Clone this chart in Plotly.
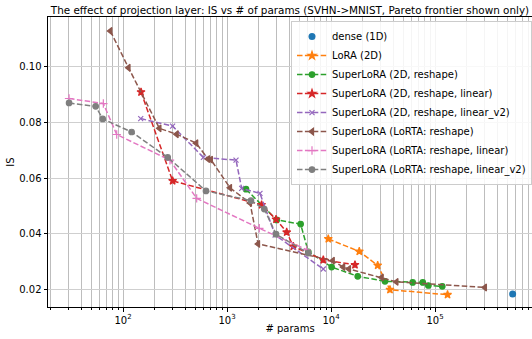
import plotly.graph_objects as go

# ---------------- data ----------------
dense_x = [558000]
dense_y = [0.0185]

lora_x = [9420, 18700, 28100, 36900, 132000]
lora_y = [0.0382, 0.0337, 0.0287, 0.0200, 0.0182]

sl2d_x = [1524, 3005, 5105, 6050, 10140, 18070, 33050, 61000, 76300, 86300, 117500]
sl2d_y = [0.0560, 0.0450, 0.0435, 0.0336, 0.0281, 0.0248, 0.0230, 0.0226, 0.0226, 0.0215, 0.0212]

sl2d_lin_x = [149, 300, 2150, 2960, 3750, 4340, 8430, 17000]
sl2d_lin_y = [0.0908, 0.0590, 0.0504, 0.0452, 0.0406, 0.0355, 0.0307, 0.0289]

sl2d_lin2_x = [148, 300, 593, 1221, 1384, 2076, 2900, 8430]
sl2d_lin2_y = [0.0813, 0.0786, 0.0674, 0.0664, 0.0563, 0.0545, 0.0396, 0.0274]

lorta_x = [75.6, 113, 224, 328, 506, 657, 700, 1069, 1664, 1990, 10400, 13100, 14900, 30700, 42600, 302000]
lorta_y = [0.1127, 0.0995, 0.0778, 0.0757, 0.0725, 0.0668, 0.0666, 0.0565, 0.0511, 0.0364, 0.0304, 0.0281, 0.0274, 0.0244, 0.0228, 0.0208]

lorta_lin_x = [30.3, 64.7, 87, 283, 511, 2045, 5840]
lorta_lin_y = [0.0885, 0.0867, 0.0756, 0.0664, 0.0527, 0.0420, 0.0343]

lorta_lin2_x = [30.3, 54.6, 63.8, 121, 269, 628, 1700, 2285, 2960, 6050]
lorta_lin2_y = [0.0869, 0.0857, 0.0812, 0.0765, 0.0674, 0.0554, 0.0519, 0.0489, 0.0399, 0.0331]

names = [
    "dense (1D)",
    "LoRA (2D)",
    "SuperLoRA (2D, reshape)",
    "SuperLoRA (2D, reshape, linear)",
    "SuperLoRA (2D, reshape, linear_v2)",
    "SuperLoRA (LoRTA: reshape)",
    "SuperLoRA (LoRTA: reshape, linear)",
    "SuperLoRA (LoRTA: reshape, linear_v2)",
]
title_text = "The effect of projection layer: IS vs # of params (SVHN->MNIST, Pareto frontier shown only)"

x_tickvals = [100, 1000, 10000, 100000]
x_ticktext = ["10<sup>2</sup>", "10<sup>3</sup>", "10<sup>4</sup>", "10<sup>5</sup>"]
y_tickvals = [0.02, 0.04, 0.06, 0.08, 0.10]

# ---------------- figure ----------------
FONT = "DejaVu Sans"
dash = "5.5px,2.4px"

fig = go.Figure()

fig.add_trace(go.Scatter(x=dense_x, y=dense_y, mode="markers", name=names[0],
                         marker=dict(color="#1f77b4", size=7, symbol="circle")))

series = [
    (lora_x, lora_y, names[1], "#ff7f0e", "star", 6),
    (sl2d_x, sl2d_y, names[2], "#2ca02c", "circle", 5.5),
    (sl2d_lin_x, sl2d_lin_y, names[3], "#d62728", "star", 6),
    (sl2d_lin2_x, sl2d_lin2_y, names[4], "#9467bd", "x-thin-open", 5),
    (lorta_x, lorta_y, names[5], "#8c564b", "triangle-left", 6),
    (lorta_lin_x, lorta_lin_y, names[6], "#e377c2", "cross-thin-open", 6),
    (lorta_lin2_x, lorta_lin2_y, names[7], "#7f7f7f", "circle", 5.5),
]
for xs, ys, nm, col, sym, sz in series:
    fig.add_trace(go.Scatter(
        x=xs, y=ys, mode="lines+markers", name=nm,
        line=dict(color=col, width=1.5, dash=dash),
        marker=dict(color=col, size=sz, symbol=sym, line=dict(color=col, width=1.2)),
    ))

minor_vals = []
for dec in [10, 100, 1000, 10000, 100000]:
    for k in range(2, 10):
        minor_vals.append(k * dec)

fig.update_layout(
    width=532, height=339,
    margin=dict(l=48, r=0, t=17, b=32, autoexpand=False),
    paper_bgcolor="white", plot_bgcolor="white",
    font=dict(family=FONT, size=10, color="black"),
    title=dict(text=title_text, x=0.5, xref="paper", xanchor="center",
               y=1, yref="paper", yanchor="bottom", pad=dict(b=3),
               font=dict(family=FONT, size=10.4, color="black")),
    showlegend=True,
    legend=dict(x=1.0, y=0.986, xanchor="right", yanchor="top",
                bgcolor="rgba(255,255,255,0.85)", bordercolor="#cccccc", borderwidth=1,
                font=dict(family=FONT, size=10, color="black"), tracegroupgap=0),
)

fig.update_xaxes(
    type="log", range=[1.2788, 5.9327],
    tickmode="array", tickvals=x_tickvals, ticktext=x_ticktext,
    showgrid=True, gridcolor="#bdbdbd", gridwidth=0.8,
    minor=dict(tickmode="array", tickvals=minor_vals, showgrid=True,
               gridcolor="#bdbdbd", gridwidth=0.8, ticks="outside", ticklen=2,
               tickcolor="black", tickwidth=0.6),
    ticks="outside", ticklen=3.5, tickcolor="black", tickwidth=0.8,
    showline=True, linecolor="black", linewidth=1, mirror=True,
    zeroline=False, automargin=False,
    title=dict(text="# params", standoff=0, font=dict(family=FONT, size=10)),
    tickfont=dict(family=FONT, size=10),
)
fig.update_yaxes(
    range=[0.0138, 0.1177],
    tickmode="array", tickvals=y_tickvals, tickformat=".2f",
    showgrid=True, gridcolor="#cfcfcf", gridwidth=0.8,
    ticks="outside", ticklen=3.5, tickcolor="black", tickwidth=0.8,
    showline=True, linecolor="black", linewidth=1, mirror=True,
    zeroline=False, automargin=False,
    title=dict(text="IS", standoff=2, font=dict(family=FONT, size=10)),
    tickfont=dict(family=FONT, size=10),
)

fig.write_html("out.html", config={"displayModeBar": False},
               post_script="document.body.style.margin='0';")
